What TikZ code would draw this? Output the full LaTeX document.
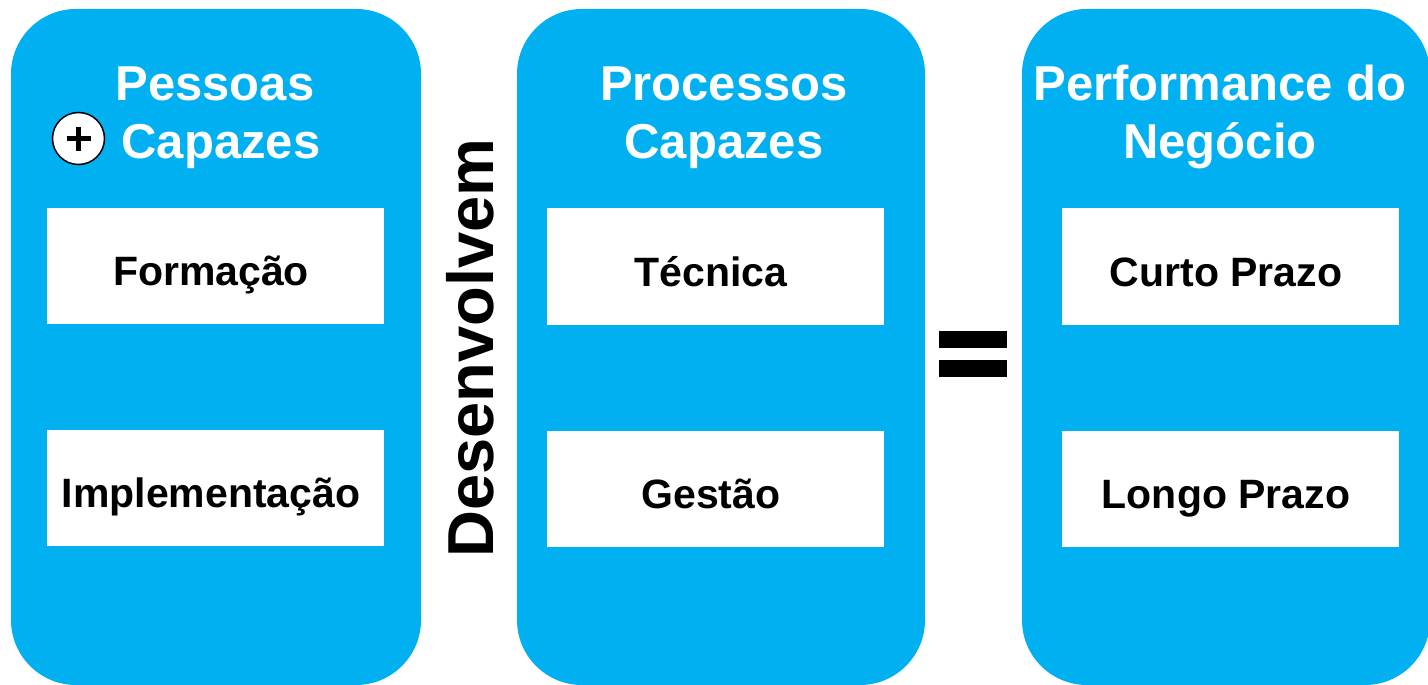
\documentclass[tikz,border=0pt]{standalone}
\usepackage{fontspec}
\setmainfont{Liberation Sans}
\definecolor{panelblue}{HTML}{00B0F0}
\begin{document}
\begin{tikzpicture}[x=1pt,y=-1pt,
  panel/.style={fill=panelblue, draw=none, rounded corners=65pt, inner sep=0pt},
  itembox/.style={fill=white, draw=none, inner sep=0pt, minimum width=337pt, minimum height=116pt},
  title/.style={text=white, font=\fontsize{49}{58}\selectfont\bfseries, anchor=base, inner sep=0pt},
  itemtext/.style={text=black, font=\fontsize{41}{49}\selectfont\bfseries, anchor=base, inner sep=0pt},
  bar/.style={fill=black, draw=none}]
\useasboundingbox (0,0) rectangle (1428,685);
% panels
\node[panel, minimum width=410pt, minimum height=676pt] (p1) at (216,347) {};
\node[panel, minimum width=408pt, minimum height=676pt] (p2) at (721,347) {};
\node[panel, minimum width=408pt, minimum height=676pt] (p3) at (1226,347) {};
% titles
\node[title] (t1a) at (215,100) {Pessoas};
\node[title] (t1b) at (221,158) {Capazes};
\node[title] (t2a) at (724,100) {Processos};
\node[title] (t2b) at (724,158) {Capazes};
\node[title] (t3a) at (1220,100) {Performance do};
\node[title] (t3b) at (1220,158) {Negócio};
% plus circle
\node[circle, draw=black, line width=1.5pt, fill=white, minimum size=52pt, inner sep=0pt] (plus) at (78.5,138.5) {};
\draw[line width=5pt] ([xshift=-12pt]plus.center) -- ([xshift=12pt]plus.center);
\draw[line width=5pt] ([yshift=-12pt]plus.center) -- ([yshift=12pt]plus.center);
% boxes
\node[itembox] (b11) at (215.5,266) {};
\node[itembox] (b12) at (215.5,488) {};
\node[itembox, minimum height=117pt] (b21) at (715,266.5) {};
\node[itembox, minimum height=116pt] (b22) at (715,489) {};
\node[itembox, minimum height=117pt] (b31) at (1230,266.5) {};
\node[itembox, minimum height=116pt] (b32) at (1230,489) {};
% box texts
\node[itemtext] (l11) at (211,285) {Formação};
\node[itemtext] (l12) at (211,507) {Implementação};
\node[itemtext] (l21) at (711,286) {Técnica};
\node[itemtext] (l22) at (711,508) {Gestão};
\node[itemtext] (l31) at (1226,286) {Curto Prazo};
\node[itemtext] (l32) at (1226,508) {Longo Prazo};
% vertical word
\node[rotate=90, font=\fontsize{65}{78}\selectfont\bfseries, inner sep=0pt] (dev) at (470,348) {Desenvolvem};
% equals sign
\fill[bar] (939,331) rectangle (1007,348);
\fill[bar] (939,360) rectangle (1007,377);
\end{tikzpicture}
\end{document}
